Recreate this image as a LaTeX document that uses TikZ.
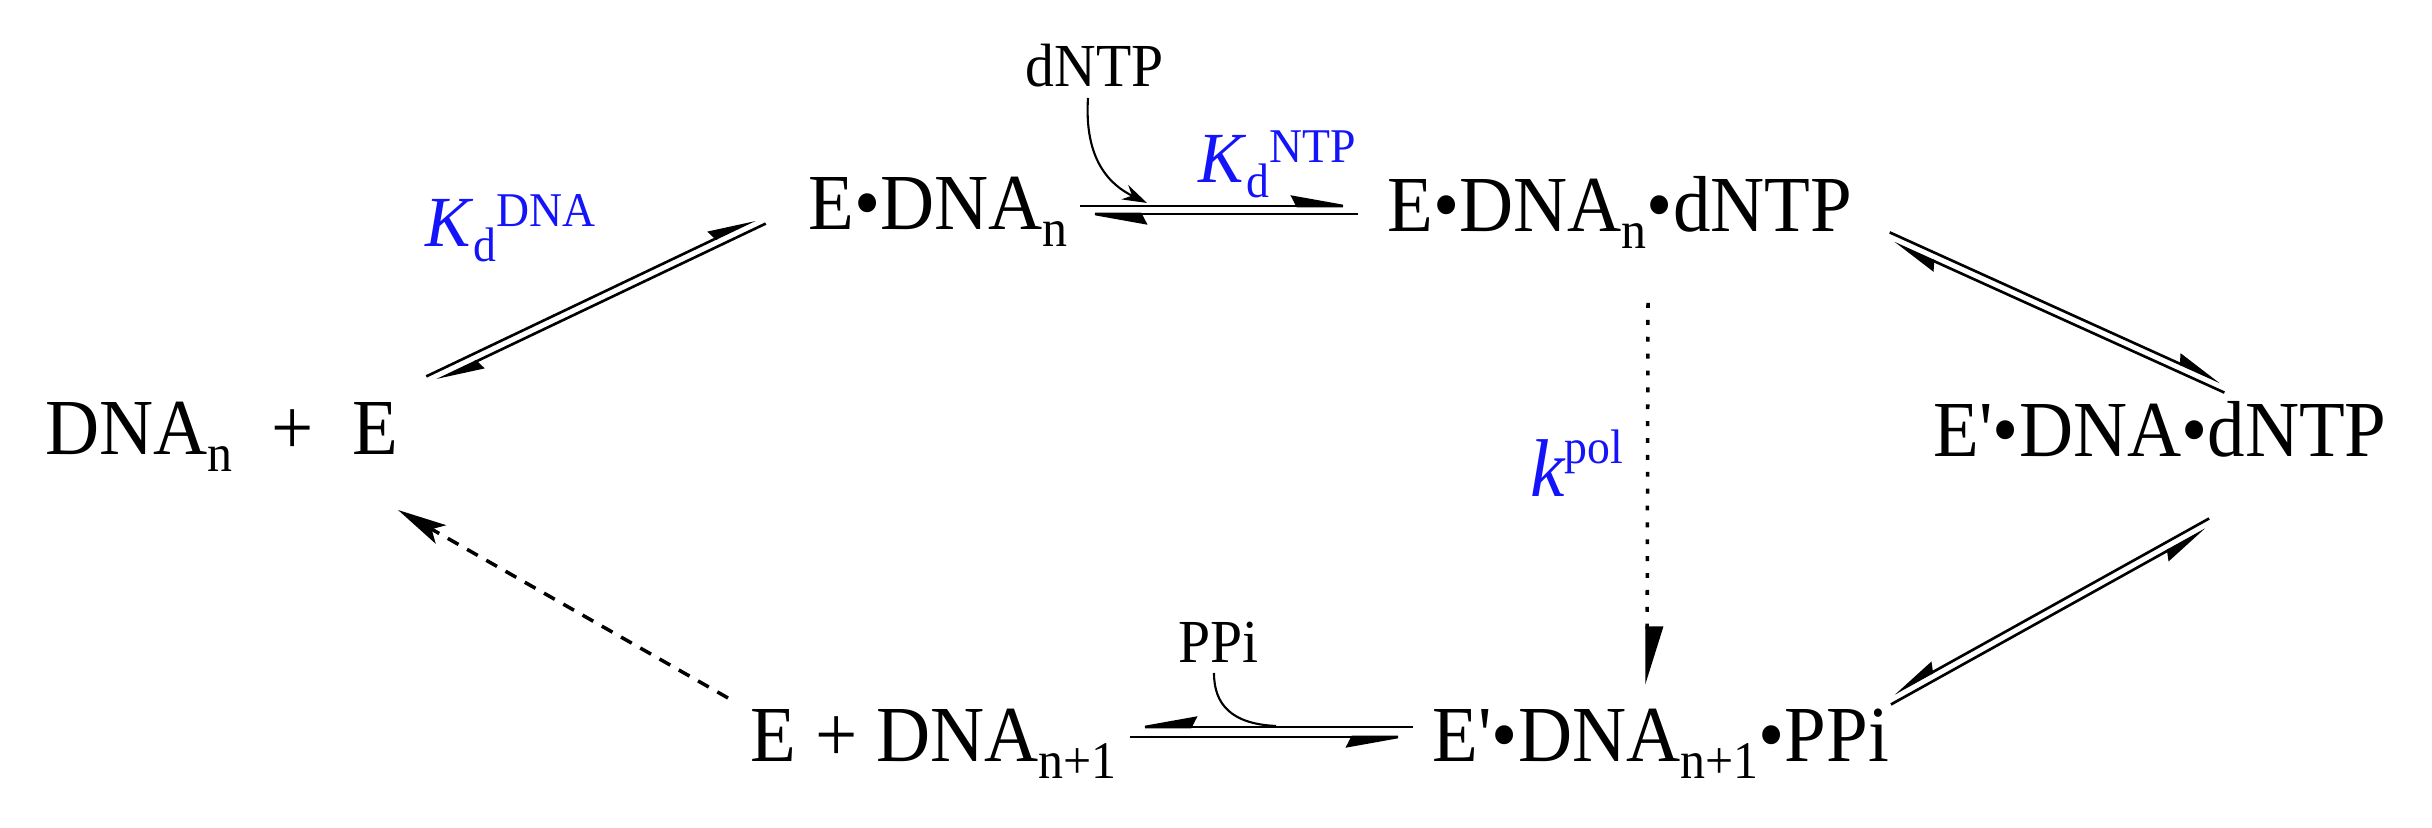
\documentclass[tikz,border=0pt]{standalone}
\usepackage{fontspec}
\newfontfamily\tms{Liberation Serif}
\usetikzlibrary{arrows.meta}
\definecolor{kblue}{RGB}{20,20,250}
\newcommand\Sb[1]{\raisebox{-4.5pt}{\fontsize{14.2}{16}\selectfont #1}}
\newcommand\Kd[1]{\raisebox{-3.8pt}{\fontsize{13}{14}\selectfont #1}}
\newcommand\Ksp[1]{\raisebox{5.5pt}{\fontsize{13}{14}\selectfont #1}}
\newcommand\tall[1]{\scalebox{1}[1.06]{#1}}
\begin{document}
\begin{tikzpicture}[x=0.01cm,y=-0.01cm,
 sp/.style={anchor=base west,inner sep=0pt,font=\tms\fontsize{21.3}{24}\selectfont},
 lab/.style={anchor=base west,inner sep=0pt,font=\tms\fontsize{16.4}{18}\selectfont},
 kon/.style={anchor=base west,inner sep=0pt,text=kblue,font=\tms\fontsize{19.3}{22}\selectfont},
 eq/.style={line width=0.75pt},
 hz/.style={eq,-{Stealth[harpoon,length=17pt,width=6pt,inset=1.5pt]}},
 hzs/.style={eq,-{Stealth[harpoon,swap,length=17pt,width=6pt,inset=1.5pt]}},
 dg/.style={eq,-{Stealth[harpoon,length=12pt,width=5.5pt,inset=1pt]}},
 dgs/.style={eq,-{Stealth[harpoon,swap,length=12pt,width=5.5pt,inset=1pt]}},
 curv/.style={line width=0.6pt},
 dashedarrow/.style={line width=1pt,dash pattern=on 3.5pt off 2.8pt,-{Stealth[length=14pt,width=6pt,inset=3pt]}},
 dottedarrow/.style={line width=1pt,dash pattern=on 1.4pt off 3.4pt,-{Triangle[harpoon,length=15pt,width=9pt]}}
]
\useasboundingbox (0,0) rectangle (2432,828);

% species
\node[sp] (n0) at (45,455) {\tall{DNA\Sb{n}\hspace{11pt}+\hspace{11pt}E}};
\node[sp] (n1) at (808,230) {\tall{E•DNA\Sb{n}}};
\node[sp] (n2) at (1387,232) {\tall{E•DNA\Sb{n}•dNTP}};
\node[sp] (n3) at (1933,457) {\tall{E'•DNA•dNTP}};
\node[sp] (n4) at (1432,762) {\tall{E'•DNA\Sb{n+1}•PPi}};
\node[sp] (n5) at (750,762) {\tall{E + DNA\Sb{n+1}}};

% small labels
\node[lab] (dntp) at (1025,87) {\tall{dNTP}};
\node[lab] (ppi) at (1178,663) {\tall{PPi}};

% constants
\node[kon] (kdna) at (425,247) {\tall{\textit{K}\Kd{d}\Ksp{DNA}}};
\node[kon] (kntp) at (1198,183) {\tall{\textit{K}\Kd{d}\Ksp{NTP}}};
\node[kon,font=\tms\fontsize{22}{24}\selectfont] (kpol) at (1530,497) {\tall{\textit{k}\hspace{-0.5pt}\raisebox{9pt}{\fontsize{13}{14}\selectfont pol}}};

% left diagonal equilibrium
\coordinate (a1s) at (426.3,376.4); \coordinate (a1e) at (755.1,219.8);
\coordinate (a2s) at (765.7,223.6); \coordinate (a2e) at (436.9,380.2);
\draw[dg] (a1s) -- (a1e);
\draw[dg] (a2s) -- (a2e);

% top horizontal equilibrium
\coordinate (b1s) at (1080,206); \coordinate (b1e) at (1358,206);
\coordinate (b2s) at (1358,214); \coordinate (b2e) at (1080,214);
\draw[hz] (b1s) -- (b1e);
\draw[hz] (b2s) -- (b2e);

% dNTP curved arrow
\coordinate (c1s) at (1088,98); \coordinate (c1e) at (1147,203);
\draw[curv,-{Stealth[length=7pt,width=4.5pt]}] (c1s) .. controls (1084,160) and (1110,185) .. (c1e);

% right top diagonal
\coordinate (d1s) at (1889.7,232.4); \coordinate (d1e) at (2220.4,382.1);
\coordinate (d2s) at (2224.4,392.6); \coordinate (d2e) at (1893.7,242.9);
\draw[dg] (d1s) -- (d1e);
\draw[dg] (d2s) -- (d2e);

% right bottom diagonal
\coordinate (e1s) at (2209.1,518.5); \coordinate (e1e) at (1894.1,693.6);
\coordinate (e2s) at (1890.9,704.5); \coordinate (e2e) at (2205.9,529.4);
\draw[dgs] (e1s) -- (e1e);
\draw[dgs] (e2s) -- (e2e);

% bottom horizontal equilibrium
\coordinate (f1s) at (1413,727); \coordinate (f1e) at (1130,727);
\coordinate (f2s) at (1130,737); \coordinate (f2e) at (1413,737);
\draw[hzs] (f1s) -- (f1e);
\draw[hzs] (f2s) -- (f2e);

% PPi curve
\coordinate (g1s) at (1214,673); \coordinate (g1e) at (1276,726);
\draw[curv] (g1s) .. controls (1214,705) and (1232,724) .. (g1e);

% kpol dotted arrow
\coordinate (h1s) at (1648,303); \coordinate (h1e) at (1647,685);
\draw[dottedarrow] (h1s) -- (h1e);

% dashed return arrow
\coordinate (i1s) at (728,698); \coordinate (i1e) at (398,510);
\draw[dashedarrow] (i1s) -- (i1e);
\end{tikzpicture}
\end{document}
